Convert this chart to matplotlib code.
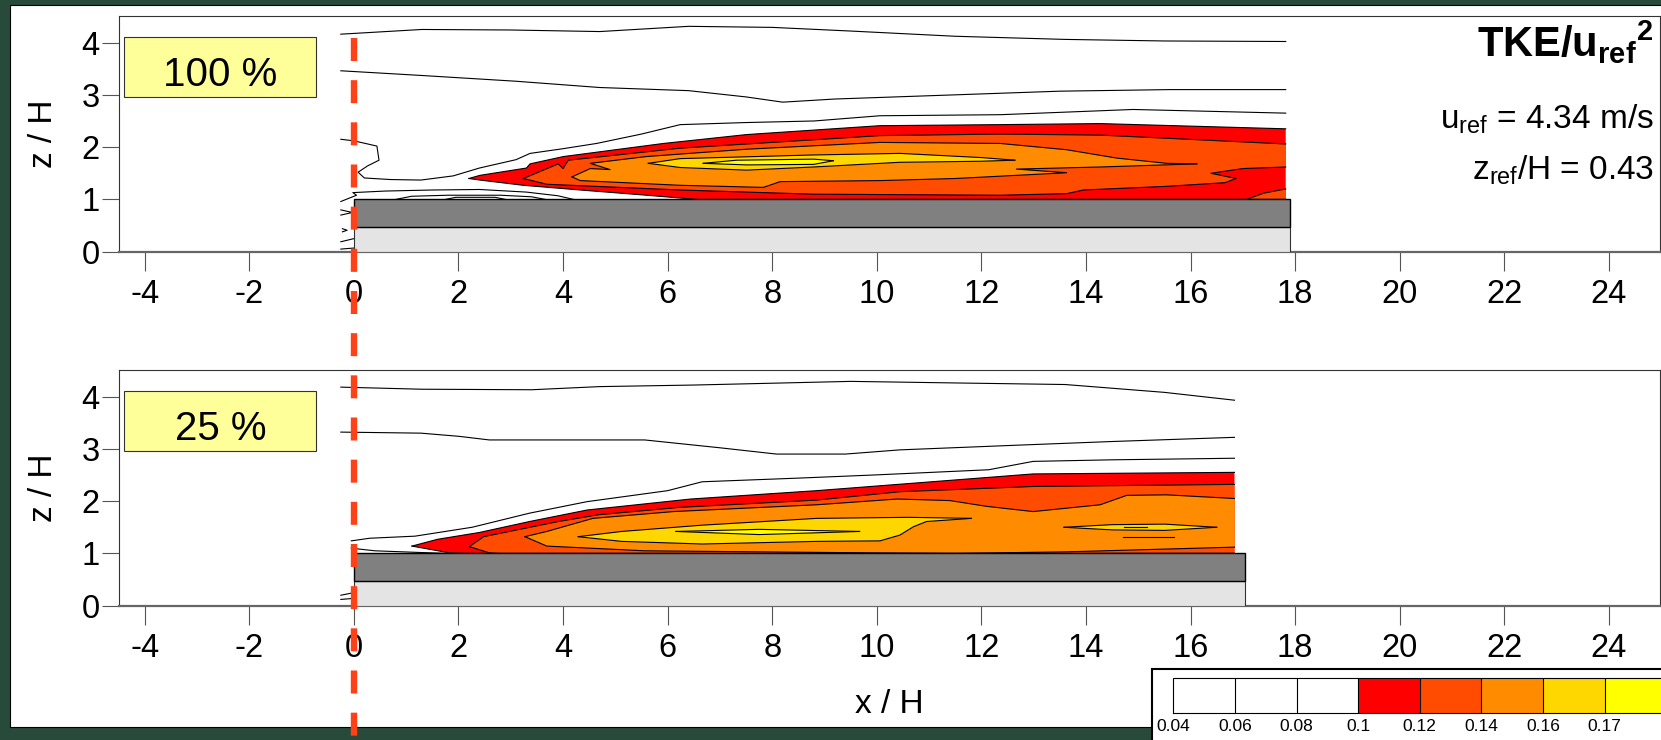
import matplotlib
matplotlib.use('Agg')
import matplotlib.pyplot as plt
from matplotlib import patches, transforms
from matplotlib.cm import ScalarMappable
from matplotlib.colors import BoundaryNorm, ListedColormap
from matplotlib.lines import Line2D

plt.rcParams['font.family'] = ['Liberation Sans', 'DejaVu Sans']
plt.rcParams['mathtext.fontset'] = 'custom'
plt.rcParams['mathtext.rm'] = 'Liberation Sans'
plt.rcParams['mathtext.it'] = 'Liberation Sans:italic'
plt.rcParams['mathtext.bf'] = 'Liberation Sans:bold'
plt.rcParams['axes.unicode_minus'] = False

W, H, DPI = 1661, 740, 100

# TKE/u_ref^2 contour levels and fill colours
levels = [0.04, 0.06, 0.08, 0.10, 0.12, 0.14, 0.16, 0.17, 0.18]
level_labels = ['0.04', '0.06', '0.08', '0.1', '0.12', '0.14', '0.16', '0.17']
level_colors = ['white', 'white', 'white', '#FF0000', '#FF4C00', '#FF8C00', '#FFD700', '#FFFF00']

cases = ['100 %', '25 %']
u_ref = 4.34
z_ref_H = 0.43

# roof block: upper (dark) and lower (light) layer, x/H length per case
roof_len = [17.9, 17.05]
roof_mid = 0.48
roof_top = 1.0

# ---- 100 % : iso-lines (x/H, z/H)
p100_iso_004 = [(-0.25, 4.16), (1.3, 4.25), (3.0, 4.24), (4.7, 4.21), (6.4, 4.31), (8.0, 4.29),
                (9.5, 4.22), (11.5, 4.12), (13.6, 4.06), (15.5, 4.03), (17.82, 4.02)]
p100_iso_006 = [(-0.25, 3.46), (1.3, 3.37), (3.1, 3.26), (4.7, 3.14), (6.4, 3.08), (7.5, 2.96),
                (8.2, 2.86), (9.2, 2.92), (11.5, 3.0), (13.5, 3.07), (15.6, 3.1), (17.82, 3.1)]
p100_iso_008 = [(-0.25, 2.15), (0.0, 2.12), (0.44, 2.02), (0.48, 1.75), (0.26, 1.64), (0.08, 1.52),
                (0.2, 1.41), (0.7, 1.38), (1.28, 1.37), (1.9, 1.45), (2.4, 1.6), (3.1, 1.76),
                (3.37, 1.88), (4.0, 1.97), (4.64, 2.07), (5.5, 2.25), (6.24, 2.43), (7.5, 2.47),
                (8.8, 2.5), (10.06, 2.6), (12.36, 2.62), (14.9, 2.72), (17.82, 2.65)]
p100_wake_1 = [(-0.25, 0.96), (-0.05, 1.04), (0.05, 1.08), (-0.02, 1.13), (0.6, 1.16), (1.5, 1.18),
               (2.4, 1.19), (3.3, 1.14), (3.9, 1.07), (4.2, 1.0)]
p100_wake_2 = [(0.8, 1.0), (1.1, 1.06), (1.8, 1.08), (2.8, 1.08), (3.4, 1.05), (3.66, 1.0)]
p100_wake_3 = [(1.75, 1.0), (1.95, 1.04), (2.7, 1.04), (2.9, 1.0)]
p100_front_1 = [(-0.25, 0.8), (-0.03, 0.75), (-0.25, 0.7)]
p100_front_2 = [(-0.22, 0.44), (-0.13, 0.41), (-0.22, 0.38)]
p100_front_3 = [(-0.25, 0.19), (0.0, 0.25)]
p100_front_4 = [(-0.25, 0.05), (0.0, 0.07)]

# ---- 100 % : upper / lower edge of the regions TKE >= level
p100_010_top = [(2.2, 1.40), (2.41, 1.46), (3.3, 1.6), (3.37, 1.68), (4.01, 1.82), (5.92, 2.07),
                (7.51, 2.24), (10.06, 2.41), (12.36, 2.43), (14.27, 2.45), (17.82, 2.35)]
p100_010_bot = [(2.2, 1.40), (2.41, 1.37), (3.24, 1.27), (4.33, 1.18), (5.6, 1.08), (6.56, 1.0),
                (17.82, 1.0)]
p100_012_top = [(3.24, 1.40), (3.91, 1.68), (4.0, 1.59), (4.1, 1.75), (6.24, 1.98), (10.06, 2.22),
                (12.36, 2.25), (14.27, 2.23), (15.54, 2.17), (17.82, 2.06)]
p100_012_bot = [(3.24, 1.40), (3.69, 1.29), (6.24, 1.18), (8.79, 1.1), (12.36, 1.08), (13.63, 1.11),
                (13.95, 1.18), (15.54, 1.25), (16.66, 1.32), (16.87, 1.40), (16.39, 1.5),
                (17.0, 1.59), (17.82, 1.62)]
p100_012b_top = [(17.07, 1.0), (17.4, 1.12), (17.82, 1.2)]
p100_012b_bot = [(17.07, 1.0), (17.82, 1.0)]
p100_014_top = [(4.17, 1.43), (4.52, 1.59), (4.9, 1.57), (4.52, 1.69), (5.6, 1.82), (7.51, 1.96),
                (10.06, 2.09), (12.36, 2.07), (13.63, 1.95), (14.59, 1.79), (15.54, 1.69),
                (16.12, 1.68)]
p100_014_bot = [(4.17, 1.43), (4.33, 1.36), (6.24, 1.27), (7.83, 1.23), (8.15, 1.34), (10.06, 1.36),
                (11.5, 1.4), (13.63, 1.51), (12.67, 1.58), (14.27, 1.62), (16.12, 1.68)]
p100_016_top = [(5.63, 1.69), (6.24, 1.78), (8.79, 1.85), (10.44, 1.88), (12.0, 1.8), (12.64, 1.75)]
p100_016_bot = [(5.63, 1.69), (6.24, 1.61), (7.51, 1.56), (8.79, 1.62), (10.44, 1.71), (12.0, 1.73),
                (12.64, 1.75)]
p100_017_top = [(6.68, 1.69), (7.32, 1.75), (8.79, 1.77), (9.17, 1.74)]
p100_017_bot = [(6.68, 1.69), (7.51, 1.66), (8.79, 1.67), (9.17, 1.74)]

# ---- 25 % : iso-lines
p25_iso_004 = [(-0.25, 4.18), (1.3, 4.14), (3.4, 4.13), (4.7, 4.19), (6.5, 4.22), (9.5, 4.29),
               (11.5, 4.26), (13.6, 4.23), (15.5, 4.08), (16.84, 3.93)]
p25_iso_006 = [(-0.25, 3.32), (1.28, 3.30), (2.0, 3.24), (2.59, 3.17), (5.56, 3.17), (7.0, 3.02),
               (8.08, 2.90), (9.4, 2.90), (10.44, 2.98), (12.69, 3.07), (14.5, 3.14), (16.84, 3.22)]
p25_iso_008 = [(-0.05, 1.24), (0.3, 1.29), (1.17, 1.33), (2.26, 1.5), (3.36, 1.77), (4.46, 1.99),
               (6.0, 2.2), (6.66, 2.37), (8.5, 2.44), (9.95, 2.5), (12.14, 2.6), (12.99, 2.76),
               (14.5, 2.79), (16.84, 2.82)]
p25_wake_1 = [(-0.05, 1.1), (0.4, 1.05), (1.2, 1.02), (1.83, 1.0)]
p25_front_1 = [(-0.25, 0.2), (0.0, 0.25)]
p25_front_2 = [(-0.25, 0.12), (0.0, 0.14)]
p25_spot_1 = [(14.73, 1.5), (15.16, 1.5)]
p25_spot_2 = [(14.7, 1.32), (15.68, 1.32)]

# ---- 25 % : regions TKE >= level
p25_010_top = [(1.11, 1.14), (1.6, 1.27), (2.4, 1.40), (3.36, 1.61), (4.46, 1.83), (6.44, 2.04),
               (8.85, 2.2), (11.05, 2.37), (12.99, 2.52), (16.84, 2.55)]
p25_010_bot = [(1.11, 1.14), (1.83, 1.01), (2.2, 1.0), (16.84, 1.0)]
p25_012_top = [(2.21, 1.13), (2.48, 1.32), (3.91, 1.61), (4.68, 1.74), (6.22, 1.88), (8.85, 2.02),
               (10.44, 2.18), (12.99, 2.28), (16.84, 2.32)]
p25_012_bot = [(2.21, 1.13), (2.59, 1.01), (2.8, 1.0), (16.84, 1.0)]
p25_014_top = [(3.27, 1.32), (3.69, 1.42), (4.57, 1.67), (6.11, 1.8), (8.85, 1.93), (10.39, 2.04),
               (11.4, 2.01), (12.1, 1.9), (12.99, 1.8), (14.27, 1.93), (14.78, 2.11), (15.54, 2.12),
               (16.84, 2.05)]
p25_014_bot = [(3.27, 1.32), (3.69, 1.14), (5.56, 1.05), (9.95, 1.01), (11.5, 1.0), (13.63, 1.03),
               (16.84, 1.12)]
p25_016_top = [(4.29, 1.32), (5.12, 1.42), (6.66, 1.54), (8.85, 1.67), (10.61, 1.69), (11.81, 1.67)]
p25_016_bot = [(4.29, 1.32), (5.12, 1.23), (6.66, 1.18), (8.85, 1.23), (10.06, 1.24), (10.44, 1.35),
               (10.7, 1.51), (10.95, 1.61), (11.81, 1.67)]
p25_016b_top = [(13.58, 1.5), (14.5, 1.55), (15.5, 1.56), (16.5, 1.5)]
p25_016b_bot = [(13.58, 1.5), (14.5, 1.45), (15.5, 1.44), (16.5, 1.5)]
p25_017_top = [(6.16, 1.42), (7.75, 1.46), (9.67, 1.42)]
p25_017_bot = [(6.16, 1.42), (7.75, 1.36), (9.67, 1.42)]

iso_lines = [
    [p100_iso_004, p100_iso_006, p100_iso_008, p100_wake_1, p100_wake_2, p100_wake_3,
     p100_front_1, p100_front_2, p100_front_3, p100_front_4],
    [p25_iso_004, p25_iso_006, p25_iso_008, p25_wake_1, p25_front_1, p25_front_2,
     p25_spot_1, p25_spot_2],
]
regions = [
    [(0.10, p100_010_top, p100_010_bot), (0.12, p100_012_top, p100_012_bot),
     (0.12, p100_012b_top, p100_012b_bot), (0.14, p100_014_top, p100_014_bot),
     (0.16, p100_016_top, p100_016_bot), (0.17, p100_017_top, p100_017_bot)],
    [(0.10, p25_010_top, p25_010_bot), (0.12, p25_012_top, p25_012_bot),
     (0.14, p25_014_top, p25_014_bot), (0.16, p25_016_top, p25_016_bot),
     (0.16, p25_016b_top, p25_016b_bot), (0.17, p25_017_top, p25_017_bot)],
]

cmap = ListedColormap(level_colors)
norm = BoundaryNorm(levels, cmap.N)


def draw_case(ax, label, lines, regs, roof_x):
    for lev, top, bot in regs:
        poly = top + bot[::-1]
        ax.fill([p[0] for p in poly], [p[1] for p in poly],
                color=cmap(norm(lev + 1e-6)), lw=0, zorder=2)
        for edge in (top, bot):
            ax.plot([p[0] for p in edge], [p[1] for p in edge], color='black', lw=0.8, zorder=3)
    for line in lines:
        ax.plot([p[0] for p in line], [p[1] for p in line], color='black', lw=0.8, zorder=3)

    ax.add_patch(patches.Rectangle((0, 0), roof_x, roof_mid, fc='#E4E4E4', ec='#333333',
                                   lw=0.8, zorder=4))
    ax.add_patch(patches.Rectangle((0, roof_mid), roof_x, roof_top - roof_mid, fc='#808080',
                                   ec='black', lw=1.0, zorder=4))

    ax.set_xlim(-4.5, 24.97)
    ax.set_ylim(0, 4.5)
    ax.set_xticks(range(-4, 25, 2))
    ax.set_yticks(range(0, 5))
    ax.tick_params(axis='x', length=13.7, width=0.8, color='#555555', pad=6, labelsize=23.5)
    ax.tick_params(axis='y', length=12.2, width=0.8, color='#555555', pad=1.5, labelsize=23.5)
    for s in ('top', 'right', 'left'):
        ax.spines[s].set_color('#333333')
        ax.spines[s].set_linewidth(0.8)
    ax.spines['bottom'].set_color('#666666')
    ax.spines['bottom'].set_linewidth(1.6)

    ax.set_ylabel('z / H', fontsize=24, va='center')
    ax.yaxis.set_label_coords(-0.049, 0.5)

    # case label box
    ax.add_patch(patches.Rectangle((0.0038, 0.656), 0.1244, 0.2575, transform=ax.transAxes,
                                   fc='#FFFF99', ec='#333333', lw=0.8, zorder=5))
    ax.text(0.066, 0.704, label, transform=ax.transAxes, ha='center', va='baseline',
            fontsize=29, zorder=6)


fig = plt.figure(figsize=(W / DPI, H / DPI), dpi=DPI, facecolor='#284A3A')
fig.add_artist(patches.Rectangle((10 / W, 1 - 727 / H), 1.0, (727 - 4.5) / H,
                                 transform=fig.transFigure, fc='white', ec='black', lw=0.8,
                                 zorder=-2))

ax_top = fig.add_axes([118.6 / W, 1 - 251.7 / H, 1541 / W, 235.3 / H])
ax_bot = fig.add_axes([118.6 / W, 1 - 605.7 / H, 1541 / W, 235.3 / H])
for ax, label, lines, regs, rx in zip((ax_top, ax_bot), cases, iso_lines, regions, roof_len):
    draw_case(ax, label, lines, regs, rx)

ax_bot.set_xlabel('x / H', fontsize=24, va='center')
ax_bot.xaxis.set_label_coords(0.5, -0.418)

ax_top.text(0.9962, 0.8287, r'$\mathbf{TKE/u_{ref}{}^{2}}$', transform=ax_top.transAxes,
            ha='right', va='baseline', fontsize=30)
ax_top.text(0.9962, 0.5244, r'u$_{\mathrm{ref}}$ = %.2f m/s' % u_ref, transform=ax_top.transAxes,
            ha='right', va='baseline', fontsize=24)
ax_top.text(0.9962, 0.3047, r'z$_{\mathrm{ref}}$/H = %.2f' % z_ref_H, transform=ax_top.transAxes,
            ha='right', va='baseline', fontsize=24)

# x/H = 0 reference line through both panels
trans = transforms.blended_transform_factory(ax_top.transData, fig.transFigure)
fig.add_artist(Line2D([0, 0], [1 - 38 / H, 0], transform=trans, color='#FF4118', lw=4.6,
                      linestyle=(0, (3.6, 3.0)), dash_capstyle='butt', zorder=6))

# colour scale
fig.add_artist(patches.Rectangle((1152 / W, -0.05), 1.0, 0.05 + (H - 669) / H,
                                 transform=fig.transFigure, fc='white', ec='black', lw=1.5,
                                 zorder=-1))
cax = fig.add_axes([1173.3 / W, 1 - 713.3 / H, 8 * 61.6 / W, 35 / H])
cb = fig.colorbar(ScalarMappable(norm=norm, cmap=cmap), cax=cax, orientation='horizontal',
                  spacing='uniform', drawedges=True, ticks=levels[:-1])
cb.set_ticklabels(level_labels)
cb.ax.tick_params(length=0, labelsize=12.5, pad=4)
cb.outline.set_linewidth(0.8)
cb.dividers.set_color('black')
cb.dividers.set_linewidth(0.8)

fig.savefig('out.png', dpi=DPI, facecolor=fig.get_facecolor())
